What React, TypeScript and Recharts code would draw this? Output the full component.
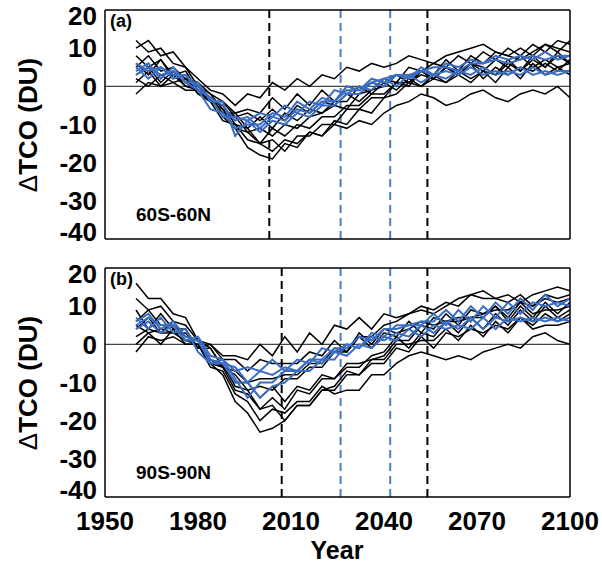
import React from 'react';
import { LineChart, Line, XAxis, YAxis, ReferenceLine } from 'recharts';

const FONT = '"Liberation Sans", Arial, Helvetica, sans-serif';
const BLUE = '#3b6dc2';
const BLUE_DASH = '#4a7cc9';

// model years, 4-year sampling
const years = [
  1960, 1964, 1968, 1972, 1976, 1980, 1984, 1988, 1992, 1996,
  2000, 2004, 2008, 2012, 2016, 2020, 2024, 2028, 2032, 2036,
  2040, 2044, 2048, 2052, 2056, 2060, 2064, 2068, 2072, 2076,
  2080, 2084, 2088, 2092, 2096, 2100,
];

// (a) 60S-60N, black members
const blackA = [
  [8, 5, 7, 3, 4, -1, -3, -8, -11, -16, -18, -19, -15, -16, -12, -13, -9, -10, -6, -7, -3, -2, 1, 0, 2, 1, 3, 1, 4, 3, 6, 4, 7, 5, 8, 6],
  [2, 0, 3, 1, 2, -2, -4, -9, -10, -14, -15, -17, -14, -15, -12, -13, -10, -11, -9, -10, -7, -5, -4, -2, -3, -5, -4, -2, -1, -3, -4, -2, -1, -2, 0, -3],
  [12, 9, 10, 6, 5, 0, -2, -6, -8, -12, -11, -13, -10, -11, -8, -7, -5, -6, -2, -1, 2, 1, 5, 4, 6, 5, 8, 6, 9, 7, 10, 8, 11, 9, 12, 11],
  [10, 12, 8, 9, 5, 2, -1, -2, -5, -2, -3, 1, -1, 2, 0, 3, 2, 5, 4, 6, 5, 6, 8, 7, 6, 8, 9, 10, 11, 9, 8, 7, 9, 11, 10, 9],
  [5, 8, 4, 5, 2, 1, -2, -4, -8, -7, -9, -6, -9, -5, -7, -4, -5, -2, -4, -1, 0, 3, 1, 4, 2, 5, 3, 6, 4, 7, 5, 8, 5, 7, 5, 6],
  [3, 5, 1, 4, 0, 0, -4, -6, -11, -12, -15, -11, -13, -10, -11, -8, -8, -5, -5, -2, -2, 1, 1, 3, 2, 5, 3, 6, 5, 3, 7, 4, 8, 5, 9, 6],
  [6, 3, 7, 2, 3, -2, -3, -7, -7, -11, -8, -11, -7, -9, -6, -7, -4, -4, 0, -2, 1, -1, 2, 0, 3, 1, 4, 2, 4, 1, 5, 2, 6, 3, 5, 3],
  [1, 4, 0, 3, 0, -1, -4, -5, -10, -11, -15, -14, -17, -13, -13, -10, -10, -6, -6, -3, -3, 1, 0, 4, 3, 7, 4, 8, 6, 9, 8, 10, 8, 11, 9, 12],
  [-2, 1, 0, 1, -1, -1, -4, -4, -7, -6, -7, -3, -6, -2, -5, -1, -4, 0, -1, 1, 0, 3, 2, 4, 2, 5, 4, 6, 2, 5, 3, 5, 4, 6, 4, 7],
];

// (a) 60S-60N, blue members
const blueA = [
  [6, 4, 5, 2, 3, 0, -3, -5, -9, -8, -11, -8, -9, -6, -7, -4, -4, -1, -1, 2, 1, 3, 3, 4, 5, 5, 4, 6, 6, 7, 6, 7, 8, 7, 8, 8],
  [4, 6, 2, 5, 1, 1, -4, -4, -13, -9, -12, -9, -10, -7, -8, -5, -5, -2, -2, 1, 0, 3, 2, 5, 3, 6, 5, 7, 6, 8, 7, 8, 7, 9, 7, 8],
  [3, 5, 3, 4, 1, -1, -3, -8, -8, -9, -7, -8, -5, -7, -4, -5, -1, -2, 0, -1, 2, 0, 3, 1, 3, 2, 4, 3, 5, 3, 4, 3, 5, 3, 4, 4],
  [5, 2, 5, 3, 3, -1, -6, -7, -11, -10, -10, -7, -8, -4, -6, -3, -4, 0, -1, 1, 2, 3, 2, 4, 3, 4, 3, 5, 3, 4, 3, 5, 3, 4, 3, 4],
];

// (b) 90S-90N, black members
const blackB = [
  [4, 7, 3, 6, 2, 1, -5, -8, -15, -18, -23, -22, -20, -16, -16, -12, -12, -8, -8, -4, -3, 1, 1, 5, 4, 8, 5, 9, 8, 9, 9, 11, 10, 12, 11, 12],
  [-2, 2, 1, 2, 0, 0, -6, -7, -13, -15, -20, -17, -18, -15, -15, -11, -13, -12, -12, -8, -8, -5, -3, -2, -3, -4, -3, -4, -2, -1, 0, -1, 2, 3, 1, 0],
  [16, 12, 12, 8, 7, 1, -1, -6, -8, -12, -11, -12, -9, -9, -6, -6, -2, -2, 2, 2, 5, 6, 8, 9, 8, 10, 12, 13, 14, 12, 13, 11, 13, 14, 15, 14],
  [12, 9, 10, 6, 5, 1, 0, -3, -3, -4, 0, -3, 2, -2, 3, 0, 5, 4, 7, 4, 8, 7, 8, 10, 9, 11, 10, 13, 12, 12, 11, 13, 10, 13, 12, 13],
  [6, 9, 5, 5, 2, 1, -4, -6, -12, -13, -17, -14, -17, -12, -13, -9, -9, -6, -6, -3, -2, 2, -1, 3, 2, 6, 3, 7, 4, 8, 5, 9, 6, 10, 7, 9],
  [2, 4, 3, 3, 1, 0, -4, -5, -11, -12, -17, -16, -20, -16, -16, -12, -11, -7, -8, -5, -5, -1, -2, 2, -1, 3, 2, 4, 3, 5, 4, 7, 5, 8, 6, 8],
  [9, 4, 8, 4, 4, -1, -1, -6, -7, -10, -9, -9, -8, -8, -5, -5, -1, -2, 2, -1, 3, 2, 6, 3, 7, 6, 7, 7, 8, 10, 7, 11, 8, 9, 9, 10],
  [0, 3, 0, 4, 0, 0, -5, -6, -10, -10, -14, -11, -15, -11, -12, -8, -9, -5, -5, -4, -4, 0, 0, 1, 1, 4, 1, 5, 2, 6, 3, 7, 4, 5, 5, 6],
  [5, 3, 4, 3, 3, -1, 0, -4, -4, -7, -4, -5, -5, -5, -2, -3, 1, -2, 3, 0, 4, 3, 4, 6, 5, 6, 6, 7, 7, 10, 6, 10, 7, 11, 8, 11],
];

// (b) 90S-90N, blue members
const blueB = [
  [6, 8, 4, 6, 2, 1, -4, -5, -10, -10, -14, -11, -10, -7, -7, -4, -4, 0, -1, 3, 2, 5, 5, 6, 6, 9, 6, 10, 7, 11, 8, 12, 9, 13, 10, 12],
  [5, 7, 5, 5, 1, 2, -3, -4, -9, -14, -10, -10, -7, -7, -4, -4, -1, -1, 2, 1, 4, 4, 5, 5, 8, 5, 9, 6, 10, 7, 11, 8, 11, 10, 11, 10],
  [4, 6, 3, 5, 1, 1, -5, -4, -7, -6, -7, -4, -7, -4, -5, -1, -2, 0, -1, 2, 1, 3, 2, 5, 3, 6, 4, 7, 4, 7, 6, 7, 6, 7, 6, 7],
  [7, 4, 7, 3, 4, -2, -5, -5, -6, -10, -7, -8, -6, -7, -4, -5, -2, -3, 0, -1, 2, 1, 4, 2, 5, 4, 5, 4, 7, 4, 7, 6, 7, 6, 7, 6],
];

// dates marked by the vertical dashed lines
const blackMarksA = [2003, 2054];
const blackMarksB = [2007, 2054];
const blueMarks = [2026, 2042];

const yMajor = [-40, -30, -20, -10, 0, 10, 20];
const yMinor = [-40, -38, -36, -34, -32, -30, -28, -26, -24, -22, -20, -18, -16, -14, -12, -10, -8, -6, -4, -2, 0, 2, 4, 6, 8, 10, 12, 14, 16, 18, 20];
const xTicks = [1950, 1980, 2010, 2040, 2070, 2100];

const buildRows = (black: number[][], blue: number[][]) =>
  years.map((year, i) => {
    const row: Record<string, number> = { year };
    black.forEach((s, k) => (row[`k${k}`] = s[i]));
    blue.forEach((s, k) => (row[`b${k}`] = s[i]));
    return row;
  });

const YTick = (props: any) => {
  const { x, y, payload } = props;
  // end labels sit inside the frame like the original
  let shift = 0;
  if (payload.value === 20) shift = 6;
  if (payload.value === -40) shift = -7;
  return (
    <text x={x} y={y + shift} dy="0.355em" textAnchor="end" fontSize={26} fontWeight="bold" fontFamily={FONT} fill="#000">
      {payload.value}
    </text>
  );
};

interface PanelProps {
  black: number[][];
  blue: number[][];
  blackMarks: number[];
  height: number;
  bottom: number;
  showYears: boolean;
}

const Panel: React.FC<PanelProps> = ({ black, blue, blackMarks, height, bottom, showYears }) => {
  const data = buildRows(black, blue);
  const frame = { stroke: '#000', strokeWidth: 1.5 };
  const minor = { stroke: '#000', strokeWidth: 1 };
  return (
    <LineChart width={602} height={height} data={data} margin={{ top: 10, right: 32, bottom, left: 0 }}>
      <XAxis xAxisId="xb" dataKey="year" type="number" domain={[1950, 2100]} ticks={xTicks} allowDataOverflow interval={0}
        orientation="bottom" mirror height={1} tick={false} tickSize={5} axisLine={frame} tickLine={frame} />
      <XAxis xAxisId="xt" dataKey="year" type="number" domain={[1950, 2100]} ticks={xTicks} allowDataOverflow interval={0}
        orientation="top" mirror height={1} tick={false} tickSize={5} axisLine={frame} tickLine={frame} />
      {showYears && (
        <XAxis xAxisId="xl" dataKey="year" type="number" domain={[1950, 2100]} ticks={xTicks} allowDataOverflow
          orientation="bottom" height={69} axisLine={false} tickLine={false} tickSize={0} tickMargin={15}
          interval={0} tick={{ fontSize: 26, fontWeight: 'bold', fill: '#000', fontFamily: FONT }} />
      )}
      <YAxis yAxisId="yl" type="number" domain={[-40, 20]} ticks={yMajor} allowDataOverflow width={105}
        axisLine={false} tickLine={false} tickSize={0} tickMargin={8} interval={0} tick={<YTick />} />
      <YAxis yAxisId="ylmaj" type="number" domain={[-40, 20]} ticks={yMajor} allowDataOverflow mirror width={1}
        interval={0} tick={false} tickSize={10} axisLine={frame} tickLine={frame} />
      <YAxis yAxisId="ylmin" type="number" domain={[-40, 20]} ticks={yMinor} allowDataOverflow mirror width={1}
        interval={0} tick={false} tickSize={4} axisLine={false} tickLine={minor} />
      <YAxis yAxisId="yrmaj" type="number" domain={[-40, 20]} ticks={yMajor} allowDataOverflow orientation="right"
        mirror width={1} interval={0} tick={false} tickSize={10} axisLine={frame} tickLine={frame} />
      <YAxis yAxisId="yrmin" type="number" domain={[-40, 20]} ticks={yMinor} allowDataOverflow orientation="right"
        mirror width={1} interval={0} tick={false} tickSize={4} axisLine={false} tickLine={minor} />

      <ReferenceLine xAxisId="xb" yAxisId="yl" y={0} stroke="#444" strokeWidth={1.3} />
      {blackMarks.map((yr) => (
        <ReferenceLine key={`bm${yr}`} xAxisId="xb" yAxisId="yl" x={yr} stroke="#000" strokeWidth={2} strokeDasharray="8 5" />
      ))}
      {blueMarks.map((yr) => (
        <ReferenceLine key={`um${yr}`} xAxisId="xb" yAxisId="yl" x={yr} stroke={BLUE_DASH} strokeWidth={2} strokeDasharray="8 5" />
      ))}

      {black.map((_, k) => (
        <Line key={`k${k}`} xAxisId="xb" yAxisId="yl" dataKey={`k${k}`} type="linear" stroke="#000"
          strokeWidth={1.5} dot={false} activeDot={false} isAnimationActive={false} />
      ))}
      {blue.map((_, k) => (
        <Line key={`b${k}`} xAxisId="xb" yAxisId="yl" dataKey={`b${k}`} type="linear" stroke={BLUE}
          strokeWidth={2} dot={false} activeDot={false} isAnimationActive={false} />
      ))}
    </LineChart>
  );
};

const txt: React.CSSProperties = { position: 'absolute', fontFamily: FONT, fontWeight: 'bold', color: '#000', whiteSpace: 'nowrap', lineHeight: 1 };

const YTitle: React.FC<{ cy: number }> = ({ cy }) => (
  <div style={{ ...txt, left: 28, top: cy, fontSize: 26, transform: 'translate(-50%, -50%) rotate(-90deg)' }}>
    <span style={{ fontWeight: 'normal' }}>Δ</span>TCO (DU)
  </div>
);

export default function App() {
  return (
    <div style={{ position: 'absolute', left: 0, top: 0, width: 602, height: 566, background: '#fff' }}>
      <div style={{ position: 'absolute', left: 0, top: 0 }}>
        <Panel black={blackA} blue={blueA} blackMarks={blackMarksA} height={250} bottom={11} showYears={false} />
      </div>
      <div style={{ position: 'absolute', left: 0, top: 258 }}>
        <Panel black={blackB} blue={blueB} blackMarks={blackMarksB} height={308} bottom={0} showYears />
      </div>
      <YTitle cy={125} />
      <YTitle cy={383} />
      <div style={{ ...txt, left: 110, top: 12, fontSize: 18 }}>(a)</div>
      <div style={{ ...txt, left: 110, top: 270, fontSize: 18 }}>(b)</div>
      <div style={{ ...txt, left: 136, top: 205, fontSize: 19 }}>60S-60N</div>
      <div style={{ ...txt, left: 136, top: 463, fontSize: 19 }}>90S-90N</div>
      <div style={{ ...txt, left: 337, top: 538, fontSize: 25, transform: 'translateX(-50%)' }}>Year</div>
    </div>
  );
}
